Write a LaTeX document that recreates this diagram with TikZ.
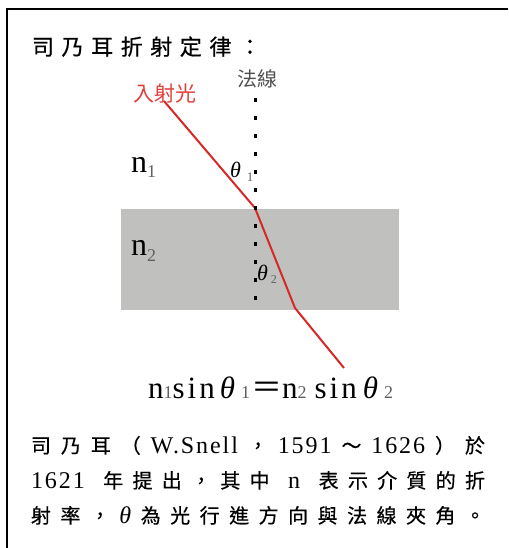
\documentclass[tikz,border=0pt]{standalone}
\usepackage{fontspec}
\setmainfont{Liberation Serif}
\newfontfamily\cjk{Noto Sans CJK TC}
\newfontfamily\cjkp[FakeBold=0.5]{Noto Sans CJK TC}
\newfontfamily\eqfont[LetterSpace=10]{Liberation Serif}
\newfontfamily\latsp[LetterSpace=8]{Liberation Serif}
\definecolor{raycol}{RGB}{214,40,36}
\definecolor{lblred}{RGB}{226,62,58}
\definecolor{slab}{RGB}{192,193,191}
\definecolor{subgray}{RGB}{95,95,95}
\definecolor{normgray}{RGB}{80,80,80}
\newcommand\fsz[1]{\fontsize{#1}{#1}\selectfont}
\begin{document}
\begin{tikzpicture}[x=1pt,y=-1pt,
  txt/.style={inner sep=0pt, outer sep=0pt},
  ray/.style={draw=raycol, line width=2pt, line join=round},
  normalline/.style={line width=3pt, dash pattern=on 4pt off 14pt},
  frameline/.style={line width=2pt}]
\useasboundingbox (0,0) rectangle (508,548);
% frame (top and left edges visible)
\coordinate (FL) at (7,548);
\coordinate (FC) at (7,9.5);
\coordinate (FR) at (508,9.5);
\draw[frameline] (FL) -- (FC) -- (FR);
% medium 2
\fill[slab] (121,209) rectangle (399,310);
% ray
\coordinate (A) at (164,101);
\coordinate (B) at (255,208);
\coordinate (C) at (295,308);
\coordinate (D) at (344,368);
\draw[ray] (A) -- (B) -- (C) -- (D);
% normal
\coordinate (N1) at (255,98);
\coordinate (N2) at (255,300);
\draw[normalline] (N1) -- (N2);
% title
\node[txt, anchor=base west] (title) at (32,55)
  {\cjkp\fsz{22}\makebox[229pt][s]{司\hfil 乃\hfil 耳\hfil 折\hfil 射\hfil 定\hfil 律\hfil ：}};
% labels
\node[txt, text=normgray] (normal) at (257.5,79) {\cjk\fsz{20}法線};
\node[txt, text=lblred] (incident) at (164.5,94) {\cjk\fsz{21}入射光};
\node[txt, anchor=base west] (n1) at (131,172)
  {\fsz{32}n\kern0pt\raisebox{-5pt}{\fsz{18}\color{subgray}1}};
\node[txt, anchor=base west] (n2) at (131,255)
  {\fsz{32}n\kern0pt\raisebox{-6pt}{\fsz{18}\color{subgray}2}};
\node[txt, anchor=base west] (t1) at (230,178)
  {\fsz{22}\itshape θ\kern6pt\raisebox{-4pt}{\fsz{13}\upshape\color{subgray}1}};
\node[txt, anchor=base west] (t2) at (257,280)
  {\fsz{22}\itshape θ\kern3pt\raisebox{-3pt}{\fsz{12}\upshape\color{subgray}2}};
% equation
\node[txt, anchor=base west] (eq) at (148,398)
  {\eqfont\fsz{31}n\kern0pt{\fsz{18}\color{subgray}1}sin\kern5pt{\itshape θ}\kern6pt{\fsz{18}\color{subgray}1}\kern1pt{\cjk\fsz{31}＝}n{\fsz{18}\color{subgray}2}\kern8pt sin\kern6pt{\itshape θ}\kern6pt{\fsz{18}\color{subgray}2}};
% paragraph
\node[txt, anchor=base west] (p1) at (31,453)
  {\cjkp\fsz{20}\makebox[454pt][s]{司\hfil 乃\hfil 耳\hfil （\hfil{\latsp\fsz{24}W.Snell}\hfil ，\hfil{\latsp\fsz{24}1591}\hfil ～\hfil{\latsp\fsz{24}1626}\hfil ）\hfil 於}};
\node[txt, anchor=base west] (p2) at (31,488)
  {\cjkp\fsz{20}\makebox[454pt][s]{{\latsp\fsz{24}1621}\hfil\hfil 年\hfil 提\hfil 出\hfil ，\hfil 其\hfil 中\hfil\hfil{\latsp\fsz{24}n}\hfil\hfil 表\hfil 示\hfil 介\hfil 質\hfil 的\hfil 折}};
\node[txt, anchor=base west] (p3) at (31,523)
  {\cjkp\fsz{20}\makebox[454pt][s]{射\hfil 率\hfil ，\hfil{\latsp\fsz{24}\itshape θ}\hfil 為\hfil 光\hfil 行\hfil 進\hfil 方\hfil 向\hfil 與\hfil 法\hfil 線\hfil 夾\hfil 角\hfil 。}};
\end{tikzpicture}
\end{document}
